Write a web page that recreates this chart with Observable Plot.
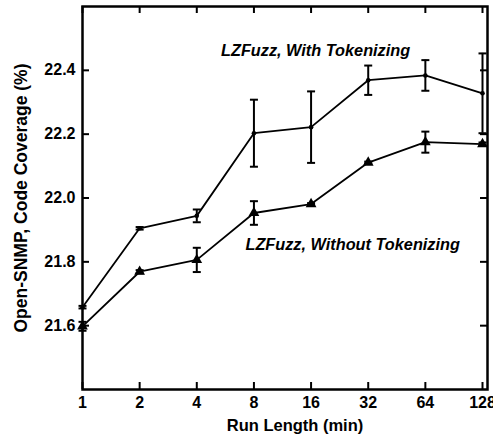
<!DOCTYPE html>
<html>
<head>
<meta charset="utf-8">
<script src="https://cdn.jsdelivr.net/npm/d3@7"></script>
<script src="https://cdn.jsdelivr.net/npm/@observablehq/plot@0.6"></script>
<style>
  html, body { margin: 0; padding: 0; background: #fff; }
</style>
</head>
<body>
<div id="chart"></div>
<script>
// ---- data ----
const runLengths = [1, 2, 4, 8, 16, 32, 64, 128];
const withTok = [21.658, 21.905, 21.944, 22.203, 22.222, 22.369, 22.384, 22.328];
const withTokErr = [0.004, 0.004, 0.02, 0.105, 0.112, 0.046, 0.048, 0.125];
const withoutTok = [21.598, 21.769, 21.806, 21.953, 21.981, 22.111, 22.175, 22.169];
const withoutTokErr = [0.014, 0.005, 0.038, 0.037, 0.003, 0.003, 0.033, 0.005];
const xTicks = [1, 2, 4, 8, 16, 32, 64, 128];
const yTicks = [21.6, 21.8, 22.0, 22.2, 22.4];
const labelWith = ["LZFuzz, With Tokenizing"];
const labelWithout = ["LZFuzz, Without Tokenizing"];
const labelWithPos = [16.9, 22.462];
const labelWithoutPos = [26.5, 21.853];

const rows = (ys, es) => runLengths.map((x, i) => ({x, y: ys[i], lo: ys[i] - es[i], hi: ys[i] + es[i]}));
const dWith = rows(withTok, withTokErr);
const dWithout = rows(withoutTok, withoutTokErr);

const W = 493, H = 436;
const mL = 82, mR = 6, mT = 6, mB = 47;
const pw = W - mL - mR, ph = H - mT - mB;
const tickLen = 7;

const cap = {draw(ctx, size) { const w = Math.sqrt(size / Math.PI); ctx.moveTo(-w, 0); ctx.lineTo(w, 0); }};
const font = "'Liberation Sans', Arial, Helvetica, sans-serif";

function series(d, symbol, r) {
  return [
    Plot.ruleX(d, {x: "x", y1: "lo", y2: "hi", stroke: "black", strokeWidth: 2}),
    Plot.dot(d, {x: "x", y: "lo", symbol: cap, r: 4, stroke: "black", strokeWidth: 2}),
    Plot.dot(d, {x: "x", y: "hi", symbol: cap, r: 4, stroke: "black", strokeWidth: 2}),
    Plot.line(d, {x: "x", y: "y", stroke: "black", strokeWidth: 1.8}),
    Plot.dot(d, {x: "x", y: "y", symbol, r, fill: "black", stroke: "none"})
  ];
}

const chart = Plot.plot({
  width: W, height: H,
  marginLeft: mL, marginRight: mR, marginTop: mT, marginBottom: mB,
  style: {fontFamily: font, fontSize: "16px", fontWeight: "bold", color: "black", background: "white"},
  x: {type: "log", base: 2, domain: [1, 136]},
  y: {domain: [21.4, 22.6]},
  marks: [
    Plot.axisX({ticks: xTicks, tickFormat: d => String(d), tickSize: 0, tickPadding: 7, label: null}),
    Plot.axisY({ticks: yTicks, tickFormat: d => d.toFixed(1), tickSize: 0, tickPadding: 7, label: null}),
    Plot.ruleX(xTicks, {insetTop: ph - tickLen, stroke: "black", strokeWidth: 2}),
    Plot.ruleX(xTicks, {insetBottom: ph - tickLen, stroke: "black", strokeWidth: 2}),
    Plot.ruleY(yTicks, {insetRight: pw - tickLen, stroke: "black", strokeWidth: 2}),
    Plot.ruleY(yTicks, {insetLeft: pw - tickLen, stroke: "black", strokeWidth: 2}),
    ...series(dWith, "circle", 2.3),
    ...series(dWithout, "triangle", 4),
    Plot.text(labelWith, {x: () => labelWithPos[0], y: () => labelWithPos[1], text: d => d, fontStyle: "italic", fontWeight: "bold", fontSize: 16.3}),
    Plot.text(labelWithout, {x: () => labelWithoutPos[0], y: () => labelWithoutPos[1], text: d => d, fontStyle: "italic", fontWeight: "bold", fontSize: 16.3}),
    Plot.text(["Open-SNMP, Code Coverage (%)"], {text: d => d, frameAnchor: "left", textAnchor: "middle", lineAnchor: "middle", rotate: -90, dx: -61, fontSize: 17.5, fontWeight: "bold"}),
    Plot.text(["Run Length (min)"], {text: d => d, frameAnchor: "bottom", dy: 36, dx: 10, lineAnchor: "middle", fontSize: 16.5, fontWeight: "bold"}),
    Plot.frame({stroke: "black", strokeWidth: 2.5})
  ]
});
document.getElementById("chart").appendChild(chart);
</script>
</body>
</html>
